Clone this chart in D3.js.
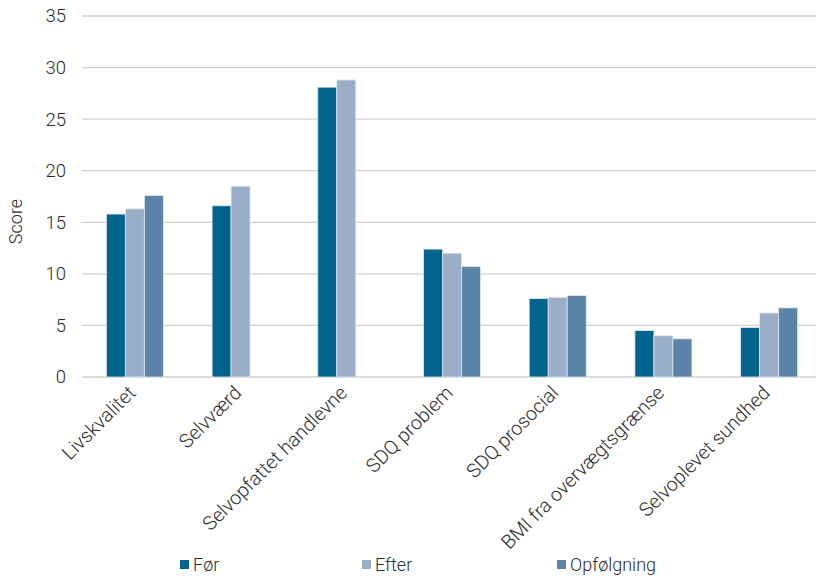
<!DOCTYPE html>
<html>
<head>
<meta charset="utf-8">
<script src="https://cdn.jsdelivr.net/npm/d3@7"></script>
<style>
  body { margin: 0; background: #fff; }
  svg { display: block; font-family: Roboto, "Noto Sans", sans-serif; font-weight: 300; }
</style>
</head>
<body>
<svg id="chart" width="816" height="577"></svg>
<script>
// Scores per outcome measure, before / after / follow-up
const categories = ["Livskvalitet", "Selvværd", "Selvopfattet handlevne", "SDQ problem",
                    "SDQ prosocial", "BMI fra overvægtsgrænse", "Selvoplevet sundhed"];
const seriesNames = ["Før", "Efter", "Opfølgning"];
const forValues   = [15.8, 16.6, 28.1, 12.4, 7.6, 4.5, 4.8];
const efterValues = [16.3, 18.5, 28.8, 12.0, 7.7, 4.0, 6.2];
const opfValues   = [17.6, null, null, 10.7, 7.9, 3.7, 6.7];
const yTicks = [0, 5, 10, 15, 20, 25, 30, 35];
const colors = ["#00648c", "#9aafc7", "#5a84a8"];

const seriesValues = [forValues, efterValues, opfValues];
const svg = d3.select("#chart");
const textColor = "#2b2b2b";

const plotLeft = 82, plotRight = 822, plotTop = 16, plotBottom = 377;

const x0 = d3.scaleBand().domain(categories).range([plotLeft, plotRight]).paddingInner(0).paddingOuter(0);
const x1 = d3.scaleBand().domain(seriesNames).range([0, 57]);
const y = d3.scaleLinear().domain([0, 35]).range([plotBottom, plotTop]);

// Horizontal gridlines
svg.append("g").selectAll("line").data(yTicks).join("line")
  .attr("x1", plotLeft).attr("x2", 816)
  .attr("y1", d => y(d)).attr("y2", d => y(d))
  .attr("stroke", "#d0d0d0").attr("stroke-width", 1.3);

// Y axis labels
const yAxis = d3.axisLeft(y).tickValues(yTicks).tickSize(0).tickPadding(0);
const yg = svg.append("g").attr("transform", `translate(66,0)`).call(yAxis);
yg.select(".domain").remove();
yg.selectAll("text").attr("font-size", 18.5).attr("fill", textColor)
  .attr("font-family", "Roboto, sans-serif").attr("font-weight", 300);

svg.append("text")
  .attr("transform", `translate(22,${(plotTop + plotBottom) / 2 + 25}) rotate(-90)`)
  .attr("text-anchor", "middle").attr("font-size", 18).attr("fill", textColor)
  .text("Score");

// Bars
const rows = [];
categories.forEach((c, i) => {
  seriesNames.forEach((s, j) => {
    const v = seriesValues[j][i];
    if (v != null) rows.push({ c, s, v, j });
  });
});

svg.append("g").selectAll("rect").data(rows).join("rect")
  .attr("x", d => x0(d.c) + (x0.bandwidth() - 57) / 2 + x1(d.s))
  .attr("width", x1.bandwidth())
  .attr("y", d => y(d.v))
  .attr("height", d => y(0) - y(d.v))
  .attr("fill", d => colors[d.j])
  .attr("stroke", "#dfe7ef").attr("stroke-width", 0.8);

// Category labels, rotated
const xAxis = d3.axisBottom(x0).tickSize(0).tickPadding(0);
const xg = svg.append("g").attr("transform", `translate(0,${plotBottom})`).call(xAxis);
xg.select(".domain").remove();
xg.selectAll("text")
  .attr("font-size", 19.5).attr("fill", textColor)
  .attr("font-family", "Roboto, sans-serif").attr("font-weight", 300)
  .attr("text-anchor", "end")
  .attr("dy", null).attr("y", 0)
  .attr("transform", "translate(2,17) rotate(-45)");

// Legend
const legendX = [180, 362, 557];
const lg = svg.append("g").selectAll("g").data(seriesNames).join("g")
  .attr("transform", (d, i) => `translate(${legendX[i]},560)`);
lg.append("rect").attr("width", 9).attr("height", 9).attr("fill", (d, i) => colors[i]);
lg.append("text").attr("x", 13).attr("y", 11).attr("font-size", 18).attr("fill", textColor).text(d => d);
</script>
</body>
</html>
